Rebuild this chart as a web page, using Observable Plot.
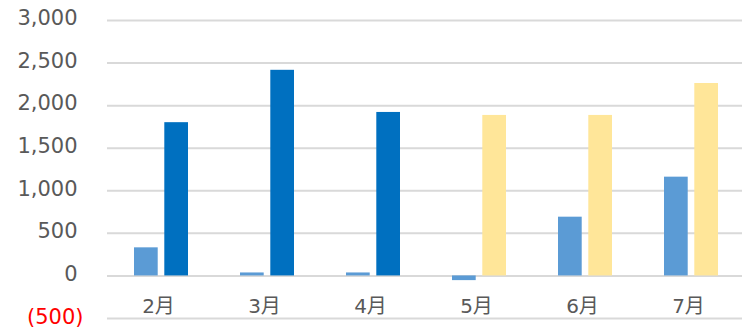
<!DOCTYPE html>
<html>
<head>
<meta charset="utf-8">
<script src="https://cdn.jsdelivr.net/npm/d3@7"></script>
<script src="https://cdn.jsdelivr.net/npm/@observablehq/plot@0.6"></script>
<style>
  html, body { margin: 0; padding: 0; background: #ffffff; }
  #chart svg { display: block; }
</style>
</head>
<body>
<div id="chart"></div>
<script>
// Monthly values: two bars per month
const months = ["2月", "3月", "4月", "5月", "6月", "7月"];
const firstSeries = [330, 35, 35, -55, 690, 1160];
const secondSeries = [1800, 2415, 1920, 1885, 1885, 2260];
// second bar: actual (実績) for Feb–Apr, outlook (見込) from May
const secondKind = ["実績", "実績", "実績", "見込", "見込", "見込"];
const yTicks = [-500, 0, 500, 1000, 1500, 2000, 2500, 3000];

const rows = months.map((m, i) => ({
  month: m,
  first: firstSeries[i],
  second: secondSeries[i],
  kind: secondKind[i]
}));

const kindColor = {"実績": "#0070C0", "見込": "#FFE699"};
const fmt = d3.format(",");
const labelFont = "'DejaVu Sans', 'Noto Sans CJK JP', sans-serif";

const chart = Plot.plot({
  width: 742,
  height: 333,
  marginLeft: 107,
  marginRight: 0,
  marginTop: 20,
  marginBottom: 15,
  style: {fontFamily: labelFont, background: "#ffffff"},
  x: {domain: months, range: [107, 745], padding: 0},
  y: {domain: [-500, 3000]},
  marks: [
    Plot.gridY(yTicks, {stroke: "#d9d9d9", strokeOpacity: 1, strokeWidth: 2}),
    Plot.barY(rows, {
      x: "month", y: "first",
      fill: "#5B9BD5",
      insetLeft: 26, insetRight: 56.3
    }),
    Plot.barY(rows, {
      x: "month", y: "second",
      fill: d => kindColor[d.kind],
      insetLeft: 56.3, insetRight: 26
    }),
    Plot.axisY(yTicks.filter(d => d >= 0), {
      tickSize: 0, tickPadding: 30,
      tickFormat: fmt,
      fontSize: 21, fill: "#595959", dy: -2,
      label: null
    }),
    Plot.axisY(yTicks.filter(d => d < 0), {
      tickSize: 0, tickPadding: 24,
      tickFormat: d => `(${fmt(-d)})`,
      fontSize: 21, fill: "#FF0000", dy: -1,
      label: null
    }),
    Plot.axisX({
      anchor: "bottom",
      tickSize: 0, tickPadding: 0,
      fontSize: 20, fill: "#595959", dy: -20, dx: -3,
      label: null
    })
  ]
});

document.getElementById("chart").appendChild(chart);
</script>
</body>
</html>
